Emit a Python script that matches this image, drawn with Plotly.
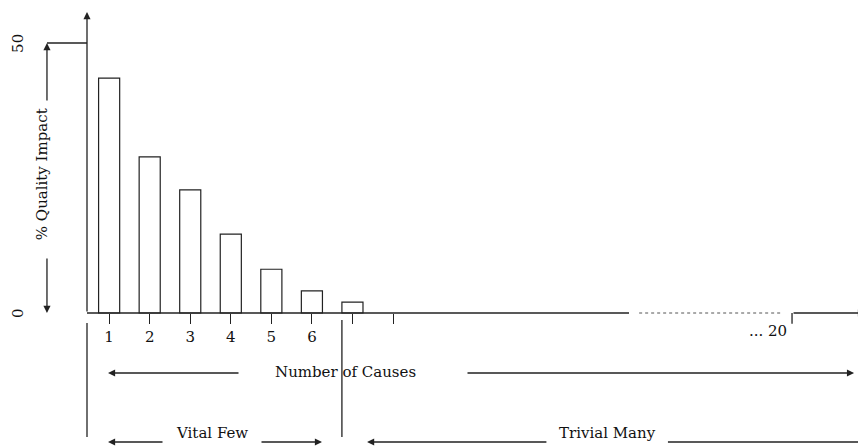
import plotly.graph_objects as go

# ---- data ----
causes = [1, 2, 3, 4, 5, 6, 7]
impact = [43.5, 28.9, 22.8, 14.6, 8.1, 4.1, 2.0]
tick_positions = [1, 2, 3, 4, 5, 6, 7, 8]
tick_labels = ["1", "2", "3", "4", "5", "6", "", ""]
y_labels = ["0", "50"]
y_label_values = [0, 50]

INK = "#222222"
FONT = "DejaVu Serif"
FS = 15

W, H = 858, 438  # page body has an 8px margin

fig = go.Figure()
fig.add_trace(go.Bar(
    x=causes, y=impact, width=0.52,
    marker=dict(color="white", line=dict(color=INK, width=1.2)),
    hoverinfo="skip", showlegend=False,
))

# axis ranges (data units spanning the whole canvas)
XR = [-1.494, 19.664]
YR = [-24.63, 56.48]

shapes = []
def line(x0, y0, x1, y1, dash="solid", color=INK, width=1.3):
    shapes.append(dict(type="line", xref="x", yref="y", x0=x0, y0=y0, x1=x1, y1=y1,
                       line=dict(color=color, width=width, dash=dash)))

ann = []
def arrow(xh, yh, xt, yt):
    ann.append(dict(x=xh, y=yh, ax=xt, ay=yt, xref="x", yref="y", axref="x", ayref="y",
                    text="", showarrow=True, arrowhead=2, arrowsize=1.1, arrowwidth=1.3,
                    arrowcolor=INK, standoff=0, startstandoff=0))
def text(x, y, s, angle=0):
    ann.append(dict(x=x, y=y, xref="x", yref="y", text=s, showarrow=False, textangle=angle,
                    font=dict(family=FONT, size=FS, color="#111111")))

# baseline (broken)
line(0.454, 0, 13.82, 0)
line(14.07, 0, 17.59, 0, dash="dot", color="#555555", width=1)
line(17.84, 0, 17.84, -2.0)
arrow(19.64, 0, 17.84, 0)
text(17.25, -3.4, "... 20")

# vertical axis with arrow
arrow(0.454, 55.74, 0.454, 0)
# 50 level marker
line(-0.533, 50, 0.454, 50)
arrow(-0.533, 50, -0.533, 39.07)
arrow(-0.533, 0, -0.533, 10.37)
text(-0.656, 25.7, "% Quality Impact", angle=-90)
for v, s in zip(y_label_values, y_labels):
    text(-1.25, v, s, angle=-90)

# vertical separators below axis
line(0.454, -1.85, 0.454, -22.96)
line(6.74, -1.30, 6.74, -22.96)

# Number of Causes row
arrow(0.972, -11.11, 4.227, -11.11)
text(6.82, -11.0, "Number of Causes")
arrow(19.37, -11.11, 9.80, -11.11)

# Vital Few row
arrow(0.972, -23.89, 2.353, -23.89)
text(3.54, -22.3, "Vital Few")
arrow(6.25, -23.89, 4.72, -23.89)

# Trivial Many row
arrow(7.36, -23.89, 11.82, -23.89)
text(13.30, -22.3, "Trivial Many")
line(14.78, -23.89, 19.664, -23.89)

fig.update_layout(
    width=W, height=H,
    margin=dict(l=0, r=0, t=0, b=0),
    paper_bgcolor="white", plot_bgcolor="white",
    shapes=shapes, annotations=ann,
    showlegend=False,
    xaxis=dict(range=XR, showgrid=False, zeroline=False, showline=False,
               anchor="free", position=(H - 305) / H,
               ticks="outside", ticklen=10, tickwidth=1.2, tickcolor=INK,
               tickvals=tick_positions, ticktext=tick_labels,
               tickfont=dict(family=FONT, size=FS, color="#111111"),
               fixedrange=True),
    yaxis=dict(range=YR, visible=False, fixedrange=True),
)
fig.write_html("out.html")
